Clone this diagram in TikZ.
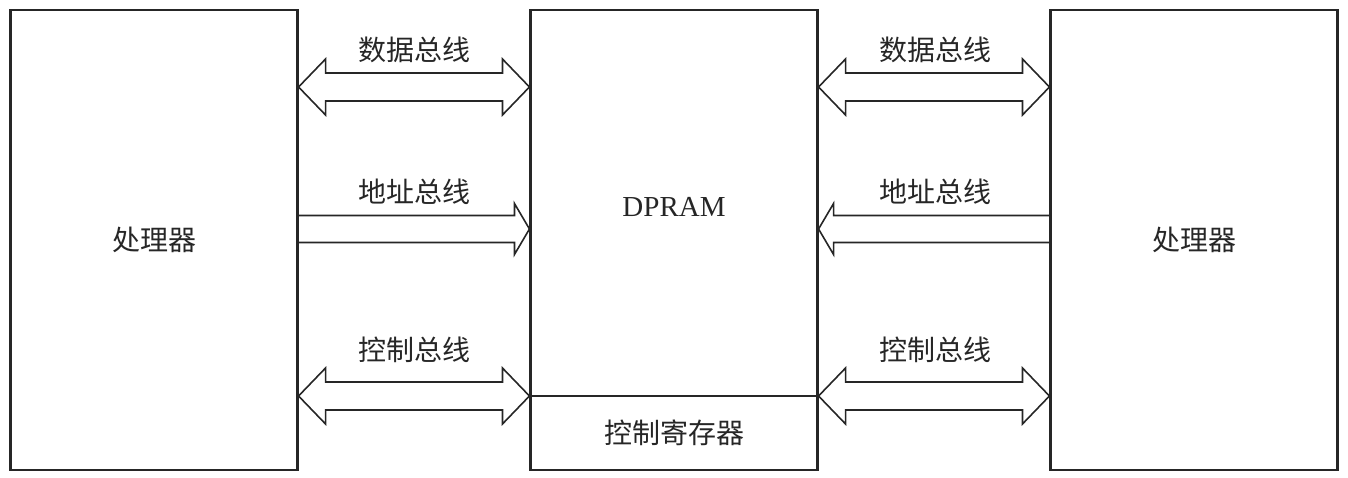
\documentclass[tikz,border=0pt]{standalone}
\usepackage{fontspec}
\setmainfont{Liberation Serif}
\newfontfamily\cjk{Noto Sans CJK SC}
\usetikzlibrary{positioning}
\usetikzlibrary{calc}

% fat double arrow between two points on one line
\newcommand{\fatdouble}[2]{%
  \draw[bus] (#1) -- ++(27,-28) -- ++(0,14) -- ($(#2)+(-27,-14)$) -- ++(0,-14) -- (#2)
    -- ++(-27,28) -- ++(0,-14) -- ($(#1)+(27,14)$) -- ++(0,14) -- cycle;}
% fat single arrow, open at its tail (#1), tip at #2, #3 = 1 or -1 for direction
\newcommand{\fatsingle}[3]{%
  \draw[bus] ($(#1)+(0,-13.5)$) -- ($(#2)+(-15*#3,-13.5)$) -- ++(0,-12) -- (#2)
    -- ++(-15*#3,25.5) -- ++(0,-12) -- ($(#1)+(0,13.5)$);}

\tikzset{
  box/.style={draw=black!85, line width=2.1pt, inner sep=0pt, minimum width=287pt},
  bus/.style={draw=black!85, line width=1.6pt, line join=miter},
  cjktext/.style={font=\cjk\fontsize{28}{30}\selectfont, text=black!85},
}

\begin{document}
\begin{tikzpicture}[x=1pt, y=-1pt]
\useasboundingbox (0,0) rectangle (1348,478);

% Processors and memory
\node [box, minimum height=460pt, cjktext] (cpuL) at (154,240) {处理器};
\node [box, minimum height=460pt, cjktext] (cpuR) at (1194,240) {处理器};
\node [box, minimum height=386pt] (dpram) at (674,203) {};
\node [box, minimum height=74pt, cjktext] (ctrlreg) at (674,433) {控制寄存器};
\node [font=\fontsize{29}{30}\selectfont, text=black!85] (dpramtext) at (674,207) {DPRAM};

% Bus labels
\foreach \t/\y [count=\i] in {数据总线/50, 地址总线/192, 控制总线/350} {
  \node [cjktext] (labL-\i) at (414,\y) {\t};
  \node [cjktext] (labR-\i) at (935,\y) {\t};
}

% Data and control buses
\foreach \y [count=\i] in {87,396} {
  \coordinate (l-\i) at (cpuL.east |- 0,\y);
  \coordinate (ml-\i) at (dpram.west |- 0,\y);
  \coordinate (mr-\i) at (dpram.east |- 0,\y);
  \coordinate (r-\i) at (cpuR.west |- 0,\y);
  \fatdouble{l-\i}{ml-\i}
  \fatdouble{mr-\i}{r-\i}
}

% Address buses
\coordinate (al) at (cpuL.east |- 0,229);
\coordinate (aml) at (dpram.west |- 0,229);
\coordinate (amr) at (dpram.east |- 0,229);
\coordinate (ar) at (cpuR.west |- 0,229);
\fatsingle{al}{aml}{1}
\fatsingle{ar}{amr}{-1}

\end{tikzpicture}
\end{document}
